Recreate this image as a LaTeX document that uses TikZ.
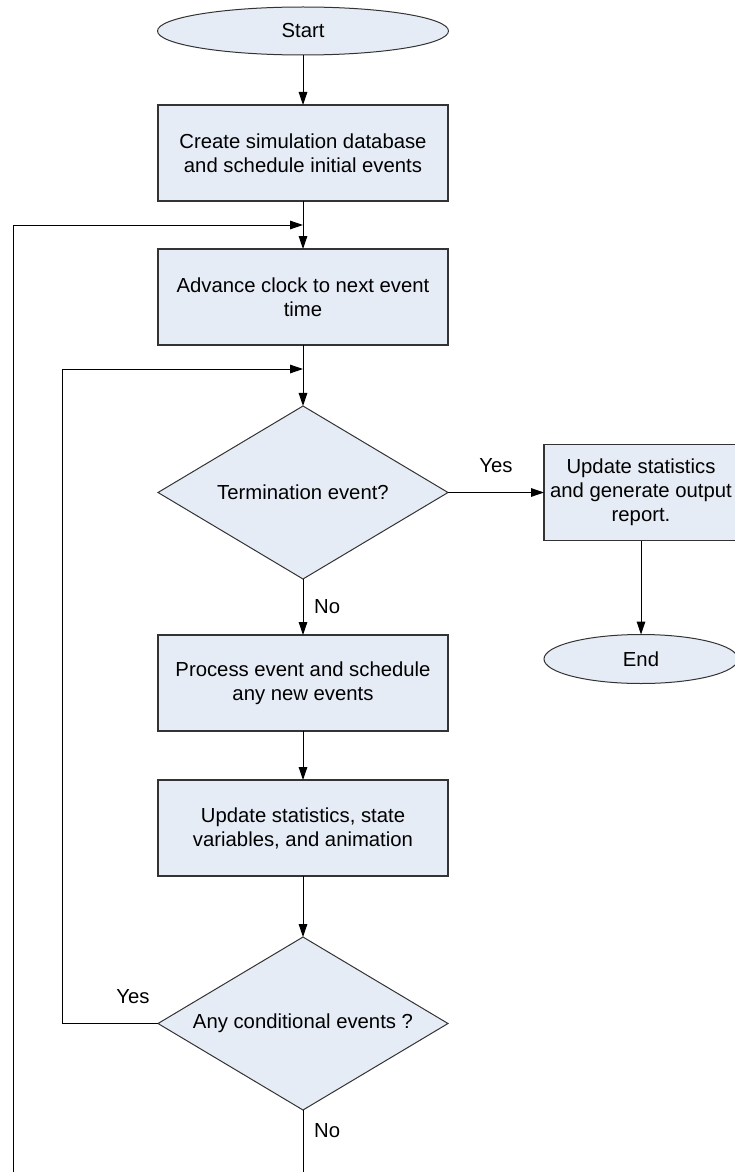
\documentclass[tikz,border=0pt]{standalone}
\usepackage{fontspec}
\setmainfont{Liberation Sans}
\usetikzlibrary{shapes,arrows.meta,positioning,calc}
\definecolor{boxfill}{HTML}{E6ECF6}

\begin{document}
\begin{tikzpicture}[
    node distance=24pt,
    font=\fontsize{10.15pt}{12pt}\selectfont,
    process/.style={rectangle, draw=black!80, line width=0.6pt, fill=boxfill, minimum width=145pt, minimum height=48pt, align=center, inner sep=2pt, outer sep=0pt},
    decision/.style={diamond, draw=black!80, line width=0.5pt, fill=boxfill, minimum width=145pt, minimum height=86.5pt, aspect=1.676, align=center, inner sep=0pt, outer sep=0pt},
    terminal/.style={ellipse, draw=black!80, line width=0.5pt, fill=boxfill, minimum width=145.5pt, minimum height=24pt, inner sep=0pt, outer sep=0pt},
    arrow/.style={-{Triangle[length=6.5pt,width=4.3pt]}, line width=0.5pt},
    line/.style={line width=0.5pt}
]
    \useasboundingbox (0,0) rectangle (367pt,-586pt);

    % Start
    \node[terminal] (start) at (151.5pt,-15.5pt) {Start};

    % Initialisation
    \node[process, below=25pt of start] (create) {Create simulation database\\and schedule initial events};

    % Clock
    \node[process, below=of create] (advance) {Advance clock to next event\\time};

    % Decision: termination?
    \node[decision, below=30.5pt of advance] (term) {Termination event?};

    % Report and end
    \node[process, right=48pt of term, minimum width=97pt] (report) {Update statistics\\and generate output\\report.};
    \node[terminal, below=47pt of report, minimum width=97pt, minimum height=24.5pt] (end) {End};

    % Event processing
    \node[process, below=28pt of term] (process) {Process event and schedule\\any new events};
    \node[process, below=24.5pt of process] (update) {Update statistics, state\\variables, and animation};

    % Decision: conditional events?
    \node[decision, below=30.5pt of update] (cond) {Any conditional events ?};

    % Loop points
    \coordinate (jone) at ($(create.south)!0.5!(advance.north)$);
    \coordinate (jtwo) at ($(advance.south)+(0,-12pt)$);
    \coordinate (loopb) at (31pt,0);
    \coordinate (corner) at (6.5pt,-590pt);

    % Arrows
    \draw[arrow] (start) -- (create);
    \draw[arrow] (create) -- (advance);
    \draw[arrow] (advance) -- (term);
    \draw[arrow] (term) -- node[above=6.5pt] {Yes} (report);
    \draw[arrow] (report) -- (end);
    \draw[arrow] (term) -- node[right=2pt] {No} (process);
    \draw[arrow] (process) -- (update);
    \draw[arrow] (update) -- (cond);
    \draw[arrow] (cond.west) -- node[pos=0.26, above=6.5pt] {Yes} (cond.west -| loopb) |- (jtwo);
    \draw[line] (cond) -- node[right=2pt, pos=0.3] {No} (cond |- corner);
    \draw[arrow] (corner) |- (jone);

\end{tikzpicture}
\end{document}
